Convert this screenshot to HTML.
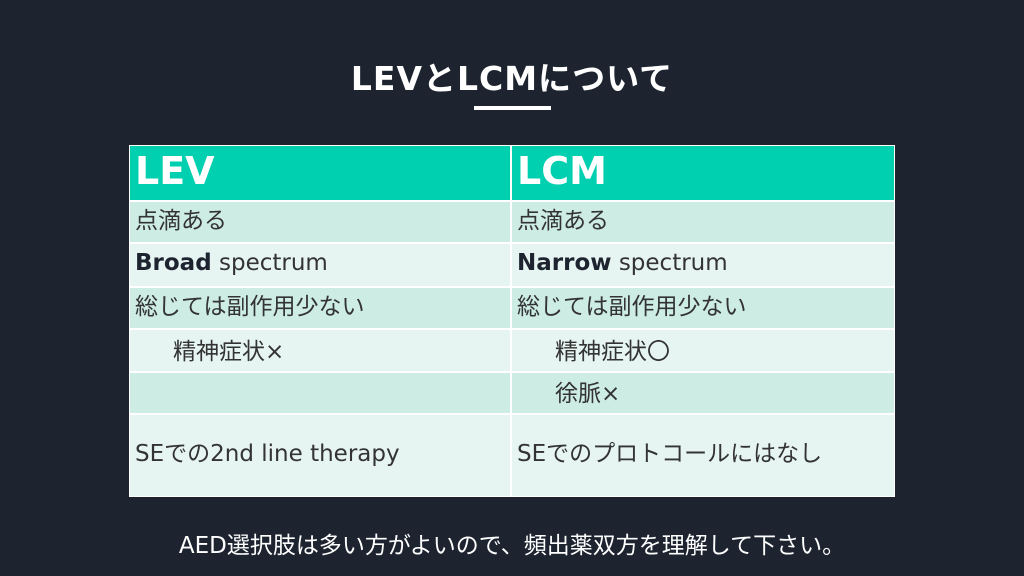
<!DOCTYPE html>
<html><head><meta charset="utf-8"><style>
body{margin:0;width:1024px;height:576px;background:#1d2430;position:relative;overflow:hidden;font-family:"DejaVu Sans","Noto Sans CJK JP",sans-serif}
.t{position:absolute;left:0;width:1024px;text-align:center;color:#fff;white-space:nowrap}
.c{position:absolute;box-sizing:border-box;display:flex;align-items:center;padding-left:5px;font-size:23px;color:#333;white-space:nowrap}
.h{background:#00cfb0;color:#fff;font-weight:bold;font-size:38px}
.a{background:#cdece4}.b{background:#e6f5f2}
b{color:#1d2430}
</style></head><body>
<div class="t" style="top:52px;font-size:33px;font-weight:bold;letter-spacing:1px">LEVとLCMについて</div>
<div style="position:absolute;left:474px;top:106px;width:77px;height:4px;background:#fff"></div>
<div style="position:absolute;left:129px;top:145px;width:766px;height:352px;background:#fff"></div>
<div class="c h" style="left:130px;top:146px;width:380px;height:54px;padding-bottom:4px">LEV</div>
<div class="c h" style="left:512px;top:146px;width:382px;height:54px;padding-bottom:4px">LCM</div>
<div class="c a" style="left:130px;top:202px;width:380px;height:40px;padding-bottom:8px">点滴ある</div>
<div class="c a" style="left:512px;top:202px;width:382px;height:40px;padding-bottom:8px">点滴ある</div>
<div class="c b" style="left:130px;top:244px;width:380px;height:42px;padding-bottom:4px"><b>Broad</b>&nbsp;spectrum</div>
<div class="c b" style="left:512px;top:244px;width:382px;height:42px;padding-bottom:4px"><b>Narrow</b>&nbsp;spectrum</div>
<div class="c a" style="left:130px;top:288px;width:380px;height:40px;padding-bottom:8px">総じては副作用少ない</div>
<div class="c a" style="left:512px;top:288px;width:382px;height:40px;padding-bottom:8px">総じては副作用少ない</div>
<div class="c b" style="left:130px;top:330px;width:380px;height:41px;padding-left:43px;padding-bottom:4px">精神症状×</div>
<div class="c b" style="left:512px;top:330px;width:382px;height:41px;padding-left:43px;padding-bottom:4px">精神症状〇</div>
<div class="c a" style="left:130px;top:373px;width:380px;height:40px"></div>
<div class="c a" style="left:512px;top:373px;width:382px;height:40px;padding-left:43px;padding-bottom:4px">徐脈×</div>
<div class="c b" style="left:130px;top:415px;width:380px;height:81px;padding-bottom:10px">SEでの2nd line therapy</div>
<div class="c b" style="left:512px;top:415px;width:382px;height:81px;padding-bottom:10px">SEでのプロトコールにはなし</div>
<div class="t" style="top:526px;font-size:23px">AED選択肢は多い方がよいので、頻出薬双方を理解して下さい。</div>
</body></html>
